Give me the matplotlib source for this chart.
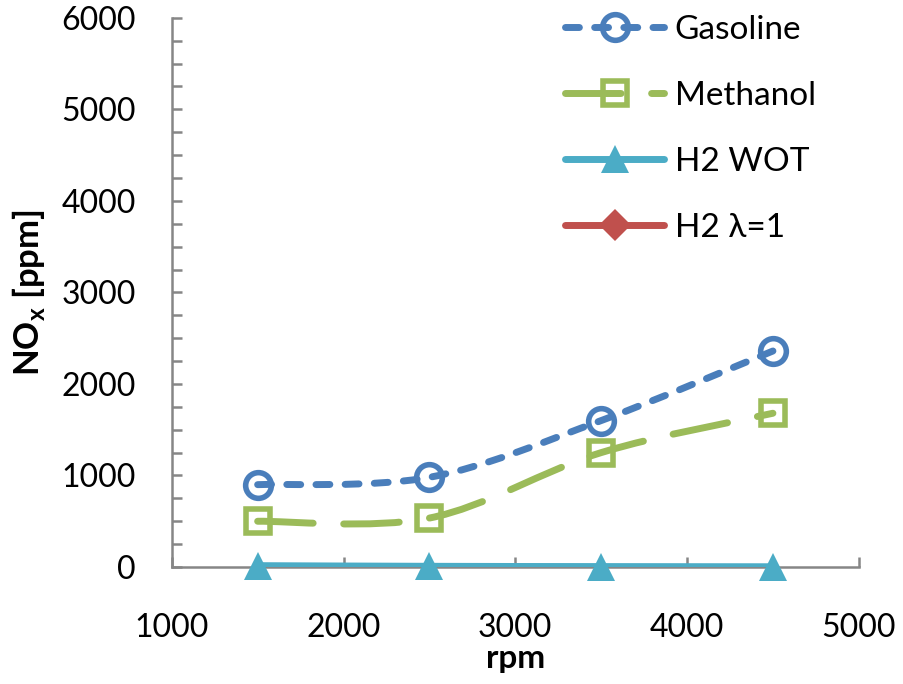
import numpy as np
import matplotlib
matplotlib.use("Agg")
import matplotlib.pyplot as plt
from matplotlib.path import Path
from matplotlib.patches import PathPatch
from matplotlib.lines import Line2D

# NOx emissions versus engine speed
rpm = [1500, 2500, 3500, 4500]
gasoline = [900, 980, 1600, 2360]
methanol = [500, 535, 1250, 1680]
h2_wot = [15, 8, 5, 3]
h2_lambda1 = [np.nan, np.nan, np.nan, np.nan]

series_names = ["Gasoline", "Methanol", "H2 WOT", "H2 \u03bb=1"]
x_ticks = [1000, 2000, 3000, 4000, 5000]
y_ticks = [0, 1000, 2000, 3000, 4000, 5000, 6000]

plt.rcParams["font.family"] = ["Lato", "DejaVu Sans"]
plt.rcParams["mathtext.fontset"] = "custom"
plt.rcParams["mathtext.rm"] = "Lato"
plt.rcParams["mathtext.bf"] = "Lato:bold"

C_GAS = "#4A7EBB"
C_MET = "#9BBB59"
C_WOT = "#4BACC6"
C_LAM = "#C0504D"
AX_GREY = "#868686"
FS = 23

fig = plt.figure(figsize=(9.04, 6.84), dpi=100)
ax = fig.add_axes([0.190, 0.171, 0.760, 0.803])


def smooth_path(xs, ys):
    """Cubic Bezier path through the points (Catmull-Rom style smoothing)."""
    pts = np.column_stack([xs, ys]).astype(float)
    n = len(pts)
    verts = [pts[0]]
    codes = [Path.MOVETO]
    for i in range(n - 1):
        p0 = pts[max(i - 1, 0)]
        p1 = pts[i]
        p2 = pts[i + 1]
        p3 = pts[min(i + 2, n - 1)]
        c1 = p1 + (p2 - p0) / 6.0
        c2 = p2 - (p3 - p1) / 6.0
        verts += [c1, c2, p2]
        codes += [Path.CURVE4] * 3
    return Path(np.array(verts), codes)


LW = 5.0
MEW = 4.0
GAS_DASH = (2.0, 2.2)
MET_DASH = (8.0, 4.4)


def draw_series(ys, color, dashes, marker, ms, z):
    ys = np.asarray(ys, dtype=float)
    if np.all(np.isnan(ys)):
        ax.plot(rpm, ys, color=color)
        return
    patch = PathPatch(smooth_path(rpm, ys), fill=False, edgecolor=color,
                      linewidth=LW, capstyle="round", joinstyle="round",
                      zorder=z)
    if dashes is not None:
        patch.set_linestyle((0, dashes))
    ax.add_patch(patch)
    filled = marker == "^"
    ax.plot(rpm, ys, linestyle="none", marker=marker, markersize=ms,
            markeredgewidth=0 if filled else MEW,
            markerfacecolor=color if filled else "none",
            markeredgecolor=color, zorder=z + 0.5, clip_on=False)


draw_series(h2_lambda1, C_LAM, None, "D", 16, 3)
draw_series(h2_wot, C_WOT, None, "^", 20, 4)
draw_series(methanol, C_MET, MET_DASH, "s", 17, 5)
draw_series(gasoline, C_GAS, GAS_DASH, "o", 18.5, 6)

ax.set_xlim(1000, 5000)
ax.set_ylim(0, 6000)
ax.set_xticks(x_ticks)
ax.set_yticks(y_ticks)
ax.set_yticks(np.arange(0, 6001, 250), minor=True)

for side in ("top", "right"):
    ax.spines[side].set_visible(False)
for side in ("left", "bottom"):
    ax.spines[side].set_color(AX_GREY)
    ax.spines[side].set_linewidth(1.8)

ax.tick_params(axis="both", which="both", direction="in", color=AX_GREY,
               width=1.8, length=7, labelsize=FS, colors="black")
ax.tick_params(axis="y", which="both", pad=26, colors=AX_GREY, labelcolor="black")
ax.tick_params(axis="x", which="both", pad=33, colors=AX_GREY, labelcolor="black")

ax.set_xlabel("rpm", fontsize=24, fontweight="bold", labelpad=1)
ax.set_ylabel(r"NO$_\mathbf{x}$ [ppm]", fontsize=25, fontweight="bold",
              labelpad=10)

handles = [
    Line2D([], [], color=C_GAS, lw=LW, dashes=GAS_DASH, dash_capstyle="round",
           marker="o", ms=18.5, mew=MEW, mfc="none", mec=C_GAS),
    Line2D([], [], color=C_MET, lw=LW, dashes=MET_DASH, dash_capstyle="round",
           marker="s", ms=17, mew=MEW, mfc="none", mec=C_MET),
    Line2D([], [], color=C_WOT, lw=LW, solid_capstyle="round",
           marker="^", ms=20, mew=0, mfc=C_WOT),
    Line2D([], [], color=C_LAM, lw=LW, solid_capstyle="round",
           marker="D", ms=16, mew=0, mfc=C_LAM),
]
fig.legend(handles, series_names, loc="upper left",
           bbox_to_anchor=(0.618, 0.988), frameon=False, fontsize=24,
           handlelength=2.95, handletextpad=0.33, labelspacing=1.08,
           borderpad=0.2, borderaxespad=0)

fig.savefig("out.png", dpi=100)
